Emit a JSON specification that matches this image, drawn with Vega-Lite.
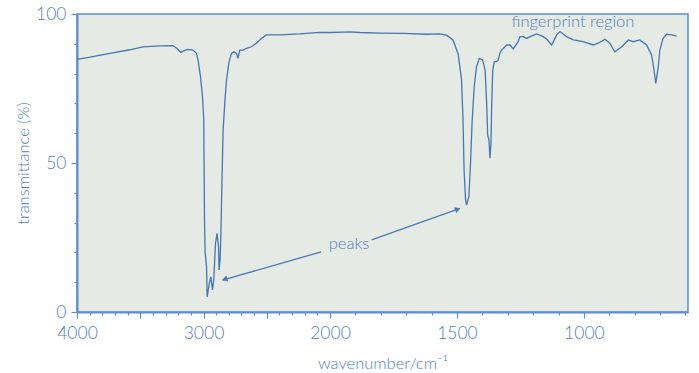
{
  "$schema": "https://vega.github.io/schema/vega-lite/v6.json",
  "width": 611,
  "height": 298,
  "autosize": {"type": "none"},
  "padding": {"left": 77, "top": 14, "right": 11, "bottom": 61},
  "background": "#ffffff",
  "datasets": {
    "spectrum": [
      {"w": 4000, "t": 84.8}, {"w": 3897, "t": 85.5}, {"w": 3740, "t": 86.8}, {"w": 3582, "t": 88.0},
      {"w": 3479, "t": 89.0}, {"w": 3345, "t": 89.3}, {"w": 3242, "t": 89.4}, {"w": 3211, "t": 88.5},
      {"w": 3179, "t": 87.1}, {"w": 3148, "t": 87.8}, {"w": 3124, "t": 88.1}, {"w": 3084, "t": 87.9},
      {"w": 3055, "t": 86.8}, {"w": 3041, "t": 84.0}, {"w": 3024, "t": 79.0}, {"w": 3008, "t": 72.3},
      {"w": 2998, "t": 64.4}, {"w": 2992, "t": 30.9}, {"w": 2987, "t": 19.8}, {"w": 2976, "t": 15.2},
      {"w": 2971, "t": 5.1}, {"w": 2956, "t": 9.1}, {"w": 2942, "t": 11.8}, {"w": 2929, "t": 7.4},
      {"w": 2919, "t": 10.7}, {"w": 2905, "t": 23.0}, {"w": 2893, "t": 26.4}, {"w": 2881, "t": 21.9},
      {"w": 2877, "t": 14.1}, {"w": 2869, "t": 17.4}, {"w": 2863, "t": 25.3}, {"w": 2855, "t": 42.0},
      {"w": 2845, "t": 61.0}, {"w": 2832, "t": 70.0}, {"w": 2818, "t": 77.9}, {"w": 2800, "t": 83.5},
      {"w": 2779, "t": 86.8}, {"w": 2758, "t": 87.3}, {"w": 2739, "t": 86.8}, {"w": 2727, "t": 85.1},
      {"w": 2713, "t": 87.9}, {"w": 2687, "t": 87.9}, {"w": 2660, "t": 88.5}, {"w": 2621, "t": 89.0},
      {"w": 2582, "t": 90.2}, {"w": 2542, "t": 91.8}, {"w": 2503, "t": 93.0}, {"w": 2398, "t": 93.0},
      {"w": 2240, "t": 93.3}, {"w": 2082, "t": 93.8}, {"w": 2000, "t": 93.8}, {"w": 1921, "t": 94.0},
      {"w": 1882, "t": 93.8}, {"w": 1803, "t": 93.6}, {"w": 1711, "t": 93.5}, {"w": 1619, "t": 93.2},
      {"w": 1567, "t": 93.3}, {"w": 1539, "t": 92.8}, {"w": 1515, "t": 91.2}, {"w": 1495, "t": 86.5},
      {"w": 1482, "t": 77.9}, {"w": 1476, "t": 64.4}, {"w": 1472, "t": 47.7}, {"w": 1466, "t": 37.6},
      {"w": 1462, "t": 35.9}, {"w": 1453, "t": 38.7}, {"w": 1446, "t": 51.0}, {"w": 1440, "t": 64.4},
      {"w": 1432, "t": 75.6}, {"w": 1423, "t": 82.3}, {"w": 1412, "t": 85.1}, {"w": 1399, "t": 84.6},
      {"w": 1389, "t": 81.2}, {"w": 1383, "t": 70.0}, {"w": 1379, "t": 59.4}, {"w": 1374, "t": 57.7},
      {"w": 1370, "t": 51.6}, {"w": 1366, "t": 56.6}, {"w": 1363, "t": 70.0}, {"w": 1359, "t": 81.2},
      {"w": 1353, "t": 84.0}, {"w": 1344, "t": 84.0}, {"w": 1337, "t": 84.6}, {"w": 1331, "t": 86.8},
      {"w": 1324, "t": 87.9}, {"w": 1311, "t": 89.0}, {"w": 1304, "t": 89.6}, {"w": 1291, "t": 89.6},
      {"w": 1278, "t": 88.3}, {"w": 1259, "t": 90.7}, {"w": 1252, "t": 92.4}, {"w": 1239, "t": 92.4},
      {"w": 1226, "t": 91.8}, {"w": 1209, "t": 92.5}, {"w": 1186, "t": 93.3}, {"w": 1160, "t": 92.4},
      {"w": 1146, "t": 91.5}, {"w": 1127, "t": 89.6}, {"w": 1107, "t": 93.0}, {"w": 1094, "t": 94.1},
      {"w": 1068, "t": 92.4}, {"w": 1042, "t": 91.3}, {"w": 1003, "t": 90.7}, {"w": 963, "t": 89.6},
      {"w": 944, "t": 90.2}, {"w": 917, "t": 91.5}, {"w": 898, "t": 90.2}, {"w": 878, "t": 87.3},
      {"w": 851, "t": 89.0}, {"w": 825, "t": 91.3}, {"w": 806, "t": 90.7}, {"w": 780, "t": 91.3},
      {"w": 753, "t": 89.6}, {"w": 733, "t": 86.2}, {"w": 724, "t": 81.2}, {"w": 717, "t": 76.7},
      {"w": 707, "t": 82.3}, {"w": 701, "t": 87.9}, {"w": 688, "t": 91.8}, {"w": 674, "t": 93.2},
      {"w": 654, "t": 93.0}, {"w": 635, "t": 92.6}
    ],
    "arrows": [
      {"arrow": "a1", "w": 2069, "t": 20.2, "w2": 2850, "t2": 10.7},
      {"arrow": "a2", "w": 1836, "t": 24.2, "w2": 1488, "t2": 34.8}
    ],
    "heads": [
      {"arrow": "a1", "w": 2833, "t": 11.0},
      {"arrow": "a2", "w": 1497, "t": 34.5}
    ],
    "labels": [
      {"text": "peaks", "w": 1925, "t": 22.8},
      {"text": "fingerprint region", "w": 1043, "t": 97.3}
    ]
  },
  "encoding": {
    "x": {
      "field": "w", "type": "quantitative",
      "scale": {"type": "linear", "domain": [4000, 2000, 590], "range": [0, 253, 611], "zero": false, "nice": false},
      "axis": {
        "title": "wavenumber/cm⁻¹",
        "values": [4000, 3900, 3800, 3700, 3600, 3500, 3400, 3300, 3200, 3100, 3000, 2900, 2800, 2700, 2600, 2500, 2400, 2300, 2200, 2100, 2000, 1900, 1800, 1700, 1600, 1500, 1400, 1300, 1200, 1100, 1000, 900, 800, 700, 600],
        "format": "d",
        "labelExpr": "indexof([4000, 3000, 2000, 1500, 1000], datum.value) >= 0 ? datum.label : ''",
        "labelOverlap": false,
        "labelFlush": false,
        "labelPadding": 6,
        "titlePadding": 14,
        "tickSize": {"condition": {"test": "datum.value % 500 === 0", "value": 6}, "value": 3}
      }
    },
    "y": {
      "field": "t", "type": "quantitative",
      "scale": {"domain": [0, 100], "nice": false},
      "axis": {
        "title": "transmittance (%)",
        "values": [0, 10, 20, 30, 40, 50, 60, 70, 80, 90, 100],
        "labelExpr": "datum.value % 50 === 0 ? datum.label : ''",
        "labelOverlap": false,
        "labelFlush": false,
        "labelPadding": 5,
        "titlePadding": 4,
        "tickSize": {"condition": {"test": "datum.value % 50 === 0", "value": 6}, "value": 3}
      }
    }
  },
  "layer": [
    {
      "data": {"name": "spectrum"},
      "mark": {"type": "line", "color": "#4676b3", "strokeWidth": 1.3, "interpolate": "linear"}
    },
    {
      "data": {"name": "arrows"},
      "mark": {"type": "rule", "color": "#4a7ab5", "strokeWidth": 1.3},
      "encoding": {
        "x2": {"field": "w2"},
        "y2": {"field": "t2"}
      }
    },
    {
      "data": {"name": "heads"},
      "transform": [{"filter": "datum.arrow === 'a1'"}],
      "mark": {"type": "point", "shape": "triangle-up", "filled": true, "color": "#4a7ab5", "size": 40, "angle": 254, "opacity": 1}
    },
    {
      "data": {"name": "heads"},
      "transform": [{"filter": "datum.arrow === 'a2'"}],
      "mark": {"type": "point", "shape": "triangle-up", "filled": true, "color": "#4a7ab5", "size": 40, "angle": 70, "opacity": 1}
    },
    {
      "data": {"name": "labels"},
      "mark": {"type": "text", "font": "Lato", "fontWeight": 300, "fontSize": 16.5, "color": "#4f80bf", "align": "center", "baseline": "middle"},
      "encoding": {
        "text": {"field": "text"}
      }
    }
  ],
  "config": {
    "view": {"stroke": "#5a8fd2", "strokeWidth": 1.5, "fill": "#e5eae4"},
    "axis": {
      "grid": false,
      "domainColor": "#5a8fd2",
      "domainWidth": 2,
      "tickColor": "#5a8fd2",
      "tickWidth": 1.2,
      "labelColor": "#4f80bf",
      "titleColor": "#4f80bf",
      "labelFont": "Lato",
      "titleFont": "Lato",
      "labelFontWeight": 300,
      "labelFontSize": 17.5,
      "titleFontSize": 16.5,
      "titleFontWeight": 300
    }
  }
}
